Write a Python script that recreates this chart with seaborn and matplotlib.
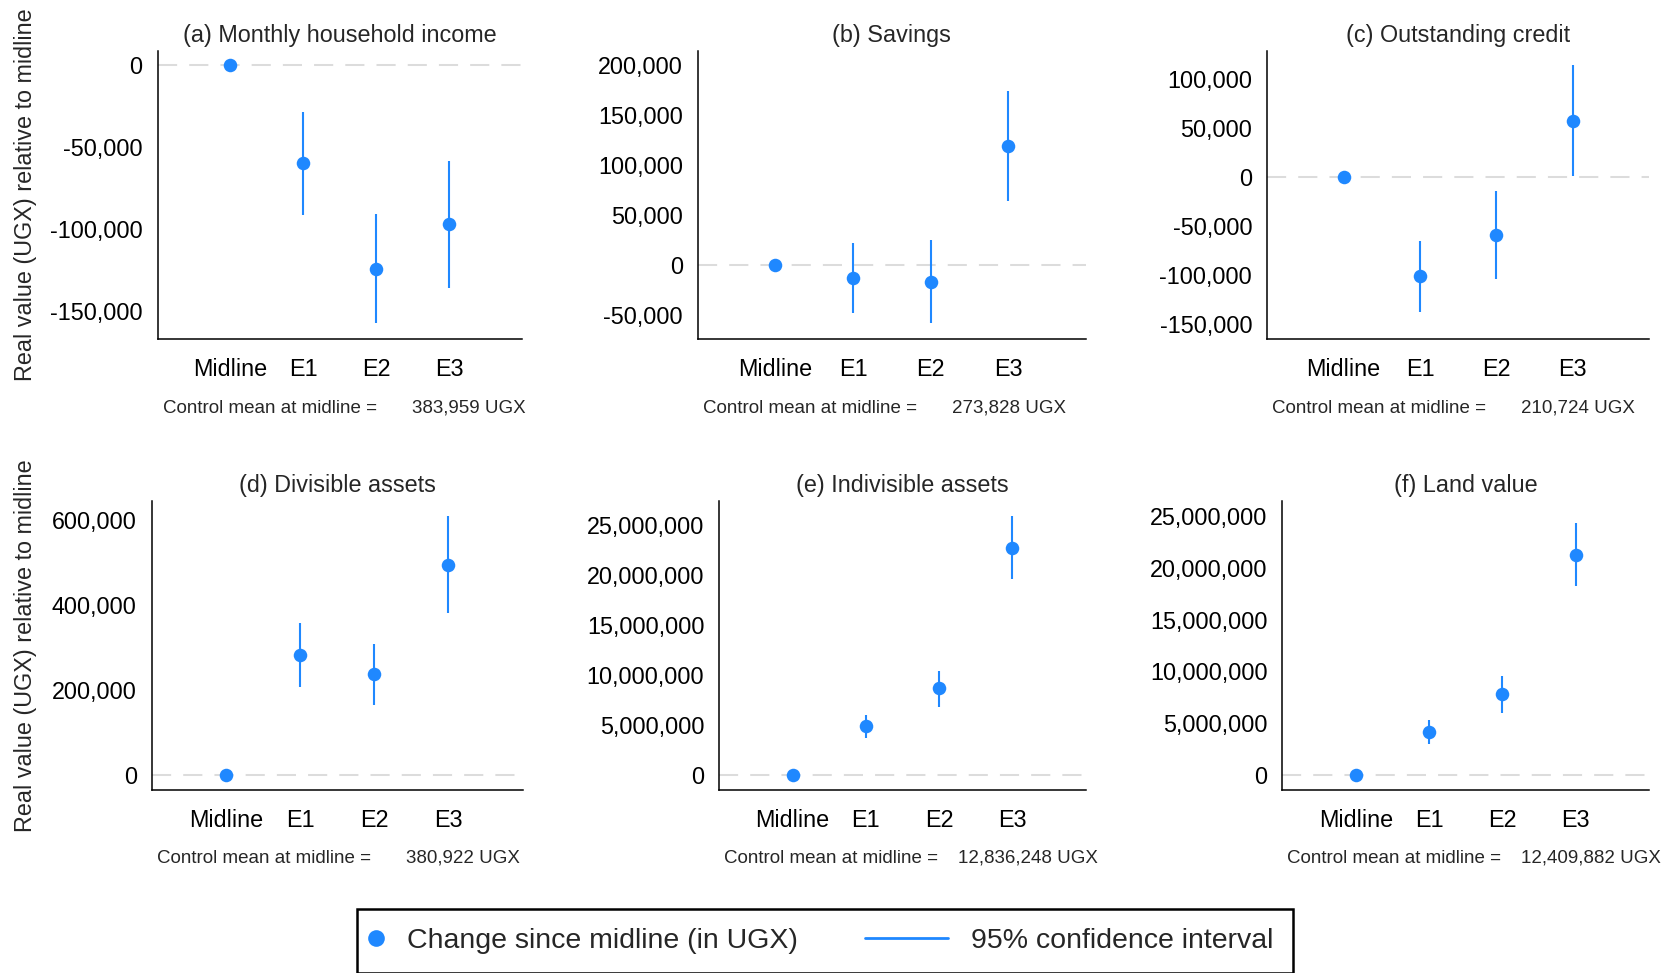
import numpy as np
import pandas as pd
import matplotlib
matplotlib.use("Agg")
import matplotlib.pyplot as plt
from matplotlib.lines import Line2D
from matplotlib.legend_handler import HandlerLine2D
from matplotlib.ticker import FuncFormatter
import seaborn as sns

W, H = 1676, 973
BLUE = "#1f88ff"
ZERO_GRAY = "#dcdcdc"

waves = ["Midline", "E1", "E2", "E3"]

# point estimates and 95% CI bounds (UGX, relative to midline)
income_est = [0, -60000, -124400, -97100]
income_lo = [np.nan, -91500, -157500, -136200]
income_hi = [np.nan, -28500, -91000, -58300]

savings_est = [0, -12300, -17000, 119300]
savings_lo = [np.nan, -47300, -58000, 64000]
savings_hi = [np.nan, 22300, 25300, 174700]

credit_est = [0, -101400, -59200, 57500]
credit_lo = [np.nan, -137400, -104100, 1400]
credit_hi = [np.nan, -65000, -13900, 114000]

divisible_est = [0, 281600, 236900, 494900]
divisible_lo = [np.nan, 207000, 164700, 381200]
divisible_hi = [np.nan, 357600, 308200, 608600]

indivisible_est = [0, 4870000, 8670000, 22730000]
indivisible_lo = [np.nan, 3730000, 6830000, 19570000]
indivisible_hi = [np.nan, 6000000, 10430000, 25870000]

land_est = [0, 4120000, 7790000, 21270000]
land_lo = [np.nan, 2960000, 6020000, 18250000]
land_hi = [np.nan, 5310000, 9590000, 24330000]

titles = ["(a) Monthly household income", "(b) Savings", "(c) Outstanding credit",
          "(d) Divisible assets", "(e) Indivisible assets", "(f) Land value"]
control_means = [383959, 273828, 210724, 380922, 12836248, 12409882]

panels = [
    (income_est, income_lo, income_hi, (-167300, 8700), [-150000, -100000, -50000, 0]),
    (savings_est, savings_lo, savings_hi, (-74000, 214700), [-50000, 0, 50000, 100000, 150000, 200000]),
    (credit_est, credit_lo, credit_hi, (-165600, 128900), [-150000, -100000, -50000, 0, 50000, 100000]),
    (divisible_est, divisible_lo, divisible_hi, (-35300, 644700), [0, 200000, 400000, 600000]),
    (indivisible_est, indivisible_lo, indivisible_hi, (-1500000, 27400000),
     [0, 5000000, 10000000, 15000000, 20000000, 25000000]),
    (land_est, land_lo, land_hi, (-1450000, 26450000),
     [0, 5000000, 10000000, 15000000, 20000000, 25000000]),
]

# axes boxes in pixels: left, top, right, bottom
boxes = [(157.5, 50.7, 522.1, 339.3), (697.9, 50.7, 1085.7, 339.3), (1267.2, 50.7, 1649.1, 339.3),
         (151.8, 501, 522.5, 790), (719.3, 501, 1085.7, 790), (1282.4, 501, 1649.1, 790)]

sns.set_style("white")
plt.rcParams["font.family"] = ["Liberation Sans", "DejaVu Sans"]

fig = plt.figure(figsize=(W / 100, H / 100), dpi=100)

for i, ((est, lo, hi, ylim, yticks), box) in enumerate(zip(panels, boxes)):
    l, t, r, b = box
    ax = fig.add_axes([l / W, 1 - b / H, (r - l) / W, (b - t) / H])
    df = pd.DataFrame({"wave": waves, "est": est, "lo": lo, "hi": hi})

    ax.axhline(0, color=ZERO_GRAY, lw=1.45, ls=(0, (9.5, 6)), zorder=1)
    ci = df.dropna()
    ax.vlines(ci.index, ci["lo"], ci["hi"], color=BLUE, lw=1.5, zorder=2)
    sns.scatterplot(data=df, x=df.index, y="est", ax=ax, color=BLUE, s=95,
                    linewidth=0, zorder=3, legend=False)

    ax.set_xlim(-1, 4)
    ax.set_ylim(*ylim)
    ax.set_xticks(range(len(waves)))
    ax.set_xticklabels(waves)
    ax.set_yticks(yticks)
    ax.yaxis.set_major_formatter(FuncFormatter(lambda v, _: f"{v:,.0f}"))
    ax.set_xlabel("")
    ax.set_ylabel("")
    ax.set_title(titles[i], fontsize=16.8, pad=6.5)
    sns.despine(ax=ax)
    for s in ["left", "bottom"]:
        ax.spines[s].set_color("black")
        ax.spines[s].set_linewidth(1.1)
    ax.tick_params(axis="both", length=5.8, width=1.1, color="black",
                   labelsize=16.8, labelcolor="black")
    ax.tick_params(axis="x", pad=8)
    ax.tick_params(axis="y", pad=5)

    # control mean note under each panel
    base_y = 412.7 if i < 3 else 862.6
    fig.text((l + 5) / W, 1 - base_y / H, "Control mean at midline =",
             fontsize=13.5, va="baseline", ha="left")
    num = f"{control_means[i]:,} UGX"
    off = 254 if control_means[i] < 1e6 else 239
    fig.text((l + off) / W, 1 - base_y / H, num, fontsize=13.5, va="baseline", ha="left")

for cy in [195, 645.5]:
    fig.text(26 / W, 1 - cy / H, "Real value (UGX) relative to midline",
             rotation=90, fontsize=16.8, ha="center", va="center")

PX = 72 / 100
LINE_LEN_PT = 83 * PX


class LongLine(HandlerLine2D):
    def get_xdata(self, legend, xdescent, ydescent, width, height, fontsize):
        x1 = -xdescent + width - 6 * PX
        return np.array([x1 - LINE_LEN_PT, x1]), np.array([x1 - LINE_LEN_PT / 2])


class LeftDot(HandlerLine2D):
    def get_xdata(self, legend, xdescent, ydescent, width, height, fontsize):
        xm = -xdescent + width / 2 - 6.5 * PX
        return np.array([xm, xm]), np.array([xm])


dot_handle = Line2D([], [], marker="o", ls="none", color=BLUE, markersize=12, markeredgewidth=0)
ci_handle = Line2D([], [], color=BLUE, lw=2)
leg = fig.legend([dot_handle, ci_handle], ["Change since midline (in UGX)", "95% confidence interval"],
                 loc="upper left", bbox_to_anchor=(356.7 / W, 1 - 909 / H), ncol=2,
                 fontsize=20.5, handlelength=0.5, handletextpad=0.62, columnspacing=4.96,
                 borderpad=0.66, borderaxespad=0, fancybox=False, framealpha=1,
                 edgecolor="black", handler_map={ci_handle: LongLine(), dot_handle: LeftDot()})
leg.get_frame().set_linewidth(1.8)

fig.savefig("out.png", dpi=100)
plt.close(fig)
